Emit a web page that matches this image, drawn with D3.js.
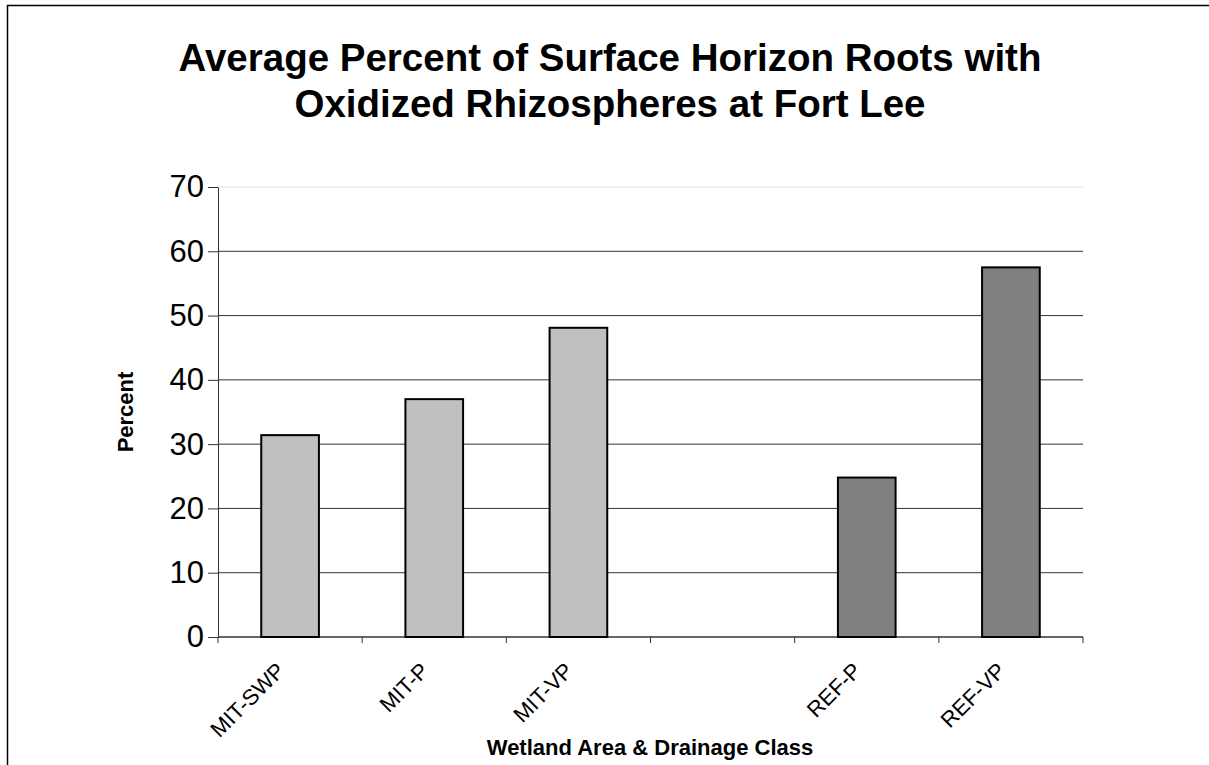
<!DOCTYPE html>
<html>
<head>
<meta charset="utf-8">
<script src="https://cdn.jsdelivr.net/npm/d3@7"></script>
<style>
    html, body { margin: 0; background: #fff; overflow: hidden; }
    #chart { display: block; }
    svg text { font-family: Arial, "Liberation Sans", sans-serif; fill: #000; }
</style>
</head>
<body>
<svg id="chart" width="1209" height="765"></svg>
<script>
// chart values
const categories = ['MIT-SWP', 'MIT-P', 'MIT-VP', '', 'REF-P', 'REF-VP'];
const values = [31.4, 37.0, 48.1, null, 24.8, 57.5];
const groups = ['MIT', 'MIT', 'MIT', null, 'REF', 'REF'];
const yTicks = [0, 10, 20, 30, 40, 50, 60, 70];
const titleLines = ['Average Percent of Surface Horizon Roots with', 'Oxidized Rhizospheres at Fort Lee'];

const margin = {top: 187, left: 218, right: 126, bottom: 128};
const width = 1209, height = 765;
const innerW = width - margin.left - margin.right;
const innerH = height - margin.top - margin.bottom;

const svg = d3.select('#chart');

// outer frame (right and bottom edges run off the page)
svg.append('rect')
    .attr('x', 7.5).attr('y', 5.5)
    .attr('width', width + 20).attr('height', height + 20)
    .attr('fill', 'none').attr('stroke', '#000').attr('stroke-width', 1.5);

svg.append('text')
    .attr('x', 610).attr('y', 71)
    .attr('text-anchor', 'middle')
    .style('font-size', '38.5px').style('font-weight', 'bold')
    .selectAll('tspan')
    .data(titleLines)
    .join('tspan')
    .attr('x', 610)
    .attr('dy', (d, i) => i === 0 ? 0 : 46)
    .text(d => d);

const g = svg.append('g')
    .attr('transform', 'translate(' + margin.left + ',' + margin.top + ')');

const x = d3.scaleBand()
    .domain(d3.range(categories.length))
    .range([0, innerW])
    .paddingInner(0.6).paddingOuter(0.3);

const y = d3.scaleLinear()
    .domain([0, 70])
    .range([innerH, 0]);

// gridlines
g.append('g')
    .selectAll('line')
    .data(yTicks.filter(d => d > 0))
    .join('line')
    .attr('x1', 0).attr('x2', innerW)
    .attr('y1', d => y(d)).attr('y2', d => y(d))
    .attr('stroke', d => d === 70 ? '#e4e4e4' : '#333')
    .attr('stroke-width', 1);

// y axis
const yAxis = g.append('g')
    .call(d3.axisLeft(y).tickValues(yTicks).tickSize(10).tickPadding(4).tickSizeOuter(0));
yAxis.select('.domain').attr('stroke', '#333');
yAxis.selectAll('.tick line').attr('stroke', '#333');
yAxis.selectAll('.tick text')
    .style('font-size', '31px')
    .style('font-family', 'Arial, "Liberation Sans", sans-serif')
    .attr('fill', '#000');

// x axis: ticks on category boundaries
const boundaries = d3.range(categories.length + 1).map(i => i * innerW / categories.length);
const xAxisG = g.append('g').attr('transform', 'translate(0,' + innerH + ')');
xAxisG.append('line')
    .attr('x1', 0).attr('x2', innerW)
    .attr('stroke', '#333').attr('stroke-width', 1.5);
xAxisG.selectAll('line.tick')
    .data(boundaries)
    .join('line')
    .attr('class', 'tick')
    .attr('x1', d => d).attr('x2', d => d)
    .attr('y1', 0).attr('y2', 6)
    .attr('stroke', '#333');

xAxisG.selectAll('text.cat')
    .data(categories)
    .join('text')
    .attr('class', 'cat')
    .attr('text-anchor', 'end')
    .attr('transform', (d, i) => 'translate(' + (x(i) + x.bandwidth() / 2 - 4) + ',35) rotate(-45)')
    .style('font-size', '22px')
    .text(d => d);

// bars
g.append('g')
    .selectAll('rect')
    .data(values.map((v, i) => ({v: v, i: i, grp: groups[i]})).filter(d => d.v !== null))
    .join('rect')
    .attr('x', d => x(d.i))
    .attr('width', x.bandwidth())
    .attr('y', d => y(d.v))
    .attr('height', d => innerH - y(d.v))
    .attr('fill', d => d.grp === 'MIT' ? '#c0c0c0' : '#808080')
    .attr('stroke', '#000')
    .attr('stroke-width', 2);

// axis titles
svg.append('text')
    .attr('transform', 'translate(133,' + (margin.top + innerH / 2) + ') rotate(-90)')
    .attr('text-anchor', 'middle')
    .style('font-size', '22px').style('font-weight', 'bold')
    .text('Percent');

svg.append('text')
    .attr('x', 650).attr('y', 755)
    .attr('text-anchor', 'middle')
    .style('font-size', '22px').style('font-weight', 'bold')
    .text('Wetland Area & Drainage Class');
</script>
</body>
</html>
